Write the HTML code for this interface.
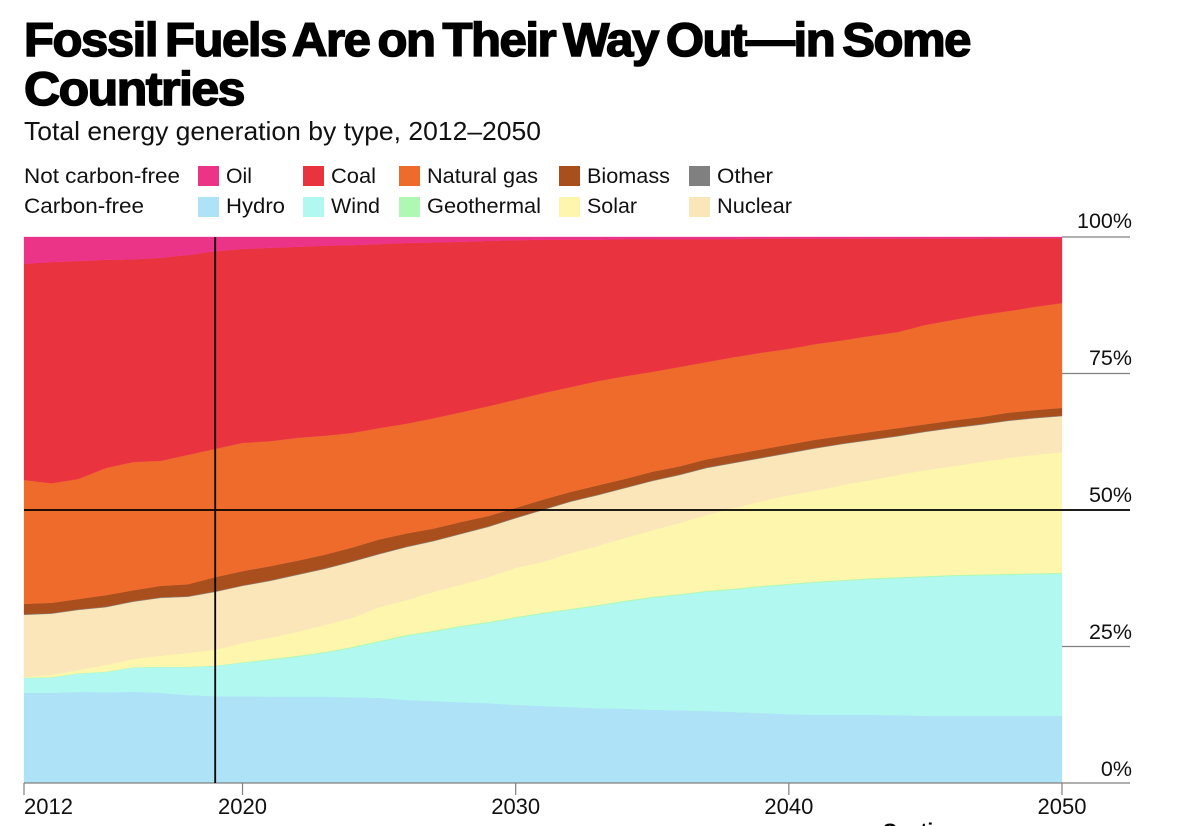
<!DOCTYPE html>
<html lang="en">
<head>
<meta charset="utf-8">
<title>Fossil Fuels Are on Their Way Out—in Some Countries</title>
<style>
  html, body { margin: 0; padding: 0; background: #fff; }
  body { width: 1200px; height: 826px; overflow: hidden; }
  svg { display: block; }
  text { font-family: "Liberation Sans", Arial, sans-serif; fill: #111; }
  .title { font-size: 47px; font-weight: 700; fill: #000; stroke: #000; stroke-width: 1.5px; letter-spacing: -1.4px; word-spacing: -4px; }
  .subtitle { font-size: 26px; }
  .legend { font-size: 21px; }
  .tick-x { font-size: 22px; }
  .tick-y { font-size: 21.5px; }
</style>
</head>
<body>
<svg id="chart" width="1200" height="826" viewBox="0 0 1200 826" xmlns="http://www.w3.org/2000/svg">
  <text class="title" x="24" y="56" textLength="946" lengthAdjust="spacingAndGlyphs">Fossil Fuels Are on Their Way Out—in Some</text>
  <text class="title" x="24" y="105" textLength="220" lengthAdjust="spacingAndGlyphs">Countries</text>
  <text class="subtitle" x="24" y="140" textLength="517" lengthAdjust="spacingAndGlyphs">Total energy generation by type, 2012–2050</text>

  <g>
    <text class="legend" x="24" y="183" textLength="156" lengthAdjust="spacingAndGlyphs">Not carbon-free</text>
    <text class="legend" x="24" y="213" textLength="120" lengthAdjust="spacingAndGlyphs">Carbon-free</text>

    <rect x="198" y="166" width="21" height="20" fill="#eb3388"/>
    <text class="legend" x="226" y="183" textLength="26" lengthAdjust="spacingAndGlyphs">Oil</text>
    <rect x="303" y="166" width="21" height="20" fill="#e9333f"/>
    <text class="legend" x="331" y="183" textLength="45" lengthAdjust="spacingAndGlyphs">Coal</text>
    <rect x="399" y="166" width="21" height="20" fill="#ee6b2b"/>
    <text class="legend" x="427" y="183" textLength="111" lengthAdjust="spacingAndGlyphs">Natural gas</text>
    <rect x="559" y="166" width="21" height="20" fill="#a94f1e"/>
    <text class="legend" x="587" y="183" textLength="83" lengthAdjust="spacingAndGlyphs">Biomass</text>
    <rect x="689" y="166" width="21" height="20" fill="#808080"/>
    <text class="legend" x="717" y="183" textLength="56" lengthAdjust="spacingAndGlyphs">Other</text>

    <rect x="198" y="197" width="21" height="20" fill="#ade2f7"/>
    <text class="legend" x="226" y="213" textLength="59" lengthAdjust="spacingAndGlyphs">Hydro</text>
    <rect x="303" y="197" width="21" height="20" fill="#b0f8f0"/>
    <text class="legend" x="331" y="213" textLength="49" lengthAdjust="spacingAndGlyphs">Wind</text>
    <rect x="399" y="197" width="21" height="20" fill="#aff8b4"/>
    <text class="legend" x="427" y="213" textLength="114" lengthAdjust="spacingAndGlyphs">Geothermal</text>
    <rect x="559" y="197" width="21" height="20" fill="#fef6ac"/>
    <text class="legend" x="587" y="213" textLength="50" lengthAdjust="spacingAndGlyphs">Solar</text>
    <rect x="689" y="197" width="21" height="20" fill="#fae6b8"/>
    <text class="legend" x="717" y="213" textLength="75" lengthAdjust="spacingAndGlyphs">Nuclear</text>
  </g>

  <g id="areas"></g>
  <g id="axes"></g>

  <text x="883" y="838" font-size="21" font-weight="700" style="fill:#000">Section</text>
</svg>

<script>
const years = [2012,2013,2014,2015,2016,2017,2018,2019,2020,2021,2022,2023,2024,2025,2026,2027,2028,2029,2030,2031,2032,2033,2034,2035,2036,2037,2038,2039,2040,2041,2042,2043,2044,2045,2046,2047,2048,2049,2050];

const hydro = [16.5,16.5,16.7,16.6,16.7,16.5,16.1,15.9,15.9,15.8,15.8,15.8,15.7,15.6,15.2,15.0,14.8,14.6,14.3,14.1,13.9,13.7,13.6,13.4,13.3,13.2,13.0,12.8,12.6,12.5,12.5,12.5,12.4,12.3,12.3,12.3,12.3,12.3,12.3];
const wind = [2.7,2.8,3.3,3.7,4.4,4.7,5.1,5.5,6.1,6.7,7.3,8.0,9.0,10.2,11.7,12.7,13.8,14.7,15.9,16.9,17.8,18.7,19.6,20.5,21.1,21.8,22.4,23.1,23.7,24.2,24.5,24.8,25.1,25.4,25.6,25.7,25.8,25.9,26.0];
const geothermal = [0.1,0.1,0.1,0.1,0.1,0.1,0.1,0.1,0.1,0.2,0.2,0.2,0.2,0.2,0.2,0.2,0.2,0.2,0.2,0.2,0.2,0.2,0.2,0.2,0.2,0.2,0.2,0.2,0.2,0.2,0.2,0.2,0.2,0.2,0.2,0.2,0.2,0.2,0.2];
const solar = [0.1,0.4,0.6,1.2,1.5,2.0,2.5,2.9,3.5,3.9,4.4,4.9,5.3,6.2,6.4,7.1,7.5,8.2,9.0,9.3,10.2,10.8,11.5,12.2,13.0,13.9,14.8,15.5,16.2,16.7,17.4,18.0,18.7,19.4,19.9,20.6,21.2,21.7,22.1];
const nuclear = [11.4,11.2,11.0,10.6,10.5,10.6,10.3,10.6,10.5,10.4,10.4,10.3,10.3,9.7,9.7,9.3,9.3,9.2,9.1,9.5,9.4,9.3,9.1,9.0,8.8,8.6,8.2,7.9,7.7,7.7,7.5,7.3,7.1,7.0,7.0,6.8,6.8,6.7,6.6];
const other = [0.1,0.1,0.1,0.1,0.1,0.1,0.1,0.1,0.1,0.1,0.1,0.1,0.1,0.1,0.1,0.1,0.1,0.1,0.1,0.1,0.1,0.1,0.1,0.1,0.1,0.1,0.1,0.1,0.1,0.1,0.1,0.1,0.1,0.1,0.1,0.1,0.1,0.1,0.1];
const biomass = [1.9,1.9,1.9,2.1,2.0,2.1,2.2,2.6,2.6,2.6,2.5,2.5,2.5,2.6,2.4,2.2,2.1,1.9,1.8,1.8,1.7,1.7,1.6,1.6,1.5,1.5,1.5,1.5,1.5,1.5,1.4,1.4,1.4,1.3,1.3,1.3,1.4,1.4,1.4];
const naturalGas = [22.7,21.9,22.0,23.3,23.5,22.9,23.7,23.5,23.5,22.9,22.5,21.8,21.0,20.4,20.1,20.2,20.1,20.1,19.8,19.5,19.2,19.1,18.8,18.3,18.2,17.8,17.8,17.7,17.5,17.5,17.5,17.6,17.6,18.2,18.4,18.7,18.6,18.9,19.2];
const coal = [39.6,40.5,39.9,38.1,37.1,37.2,36.6,36.2,35.5,35.4,35.0,34.8,34.4,33.7,33.1,32.2,31.2,30.3,29.2,28.1,27.0,25.9,25.1,24.3,23.4,22.5,21.6,20.9,20.2,19.3,18.6,17.8,17.1,15.8,14.9,14.0,13.4,12.6,11.9];
const oil = [4.9,4.6,4.4,4.2,4.1,3.8,3.3,2.6,2.2,2.0,1.8,1.6,1.5,1.3,1.1,1.0,0.9,0.7,0.6,0.5,0.5,0.5,0.4,0.4,0.4,0.4,0.4,0.3,0.3,0.3,0.3,0.3,0.3,0.3,0.3,0.3,0.2,0.2,0.2];

const xTickYears = [2012,2020,2030,2040,2050];
const xTickLabels = ["2012","2020","2030","2040","2050"];
const yTickValues = [0,25,50,75,100];
const yTickLabels = ["0%","25%","50%","75%","100%"];
const highlightYear = [2019];
const highlightShare = [50];

const NS = "http://www.w3.org/2000/svg";
const plotLeft = 24, plotRight = 1062, plotTop = 237, plotBottom = 783, gridRight = 1130;

function xScale(year) {
  return plotLeft + (year - years[0]) / (years[years.length - 1] - years[0]) * (plotRight - plotLeft);
}
function yScale(share) {
  return plotBottom - share / 100 * (plotBottom - plotTop);
}
function make(tag, attrs) {
  const el = document.createElementNS(NS, tag);
  for (const k in attrs) el.setAttribute(k, attrs[k]);
  return el;
}

const stack = [
  { key: "hydro", values: hydro, color: "#ade2f7" },
  { key: "wind", values: wind, color: "#b0f8f0" },
  { key: "geothermal", values: geothermal, color: "#aff8b4" },
  { key: "solar", values: solar, color: "#fef6ac" },
  { key: "nuclear", values: nuclear, color: "#fae6b8" },
  { key: "other", values: other, color: "#808080" },
  { key: "biomass", values: biomass, color: "#a94f1e" },
  { key: "natural-gas", values: naturalGas, color: "#ee6b2b" },
  { key: "coal", values: coal, color: "#e9333f" },
  { key: "oil", values: oil, color: "#eb3388" }
];

const areasGroup = document.getElementById("areas");
const axesGroup = document.getElementById("axes");
let baseline = years.map(function () { return 0; });

stack.forEach(function (series) {
  const tops = series.values.map(function (v, i) { return baseline[i] + v; });
  const upper = years.map(function (yr, i) { return xScale(yr).toFixed(2) + "," + yScale(tops[i]).toFixed(2); });
  const lower = years.map(function (yr, i) { return xScale(yr).toFixed(2) + "," + yScale(baseline[i]).toFixed(2); }).reverse();
  const area = make("polygon", { points: upper.concat(lower).join(" "), fill: series.color, stroke: series.color, "stroke-width": 0.3 });
  
  
  areasGroup.appendChild(area);
  baseline = tops;
});

yTickValues.forEach(function (value, i) {
  const y = yScale(value);
  const isFull = value === 0;
  const line = make("line", { x1: isFull ? plotLeft : plotRight, x2: gridRight, y1: y, y2: y, stroke: "#808080", "stroke-width": 1.2 });
  
  
  axesGroup.appendChild(line);
  const label = make("text", { x: 1132, y: y - 7 - value * 0.02, "text-anchor": "end", class: "tick-y" });
  
  
  label.textContent = yTickLabels[i];
  axesGroup.appendChild(label);
});

xTickYears.forEach(function (year, i) {
  const x = xScale(year);
  const tick = make("line", { x1: x, x2: x, y1: plotBottom, y2: plotBottom + 12, stroke: "#808080", "stroke-width": 1.2 });
  
  
  axesGroup.appendChild(tick);
  const label = make("text", { x: i === 0 ? plotLeft : x, y: 814, "text-anchor": i === 0 ? "start" : "middle", class: "tick-x" });
  
  
  label.textContent = xTickLabels[i];
  axesGroup.appendChild(label);
});

const hLine = make("line", { x1: plotLeft, x2: gridRight, y1: yScale(highlightShare[0]), y2: yScale(highlightShare[0]), stroke: "#000", "stroke-width": 1.8 });


axesGroup.appendChild(hLine);

const vLine = make("line", { x1: xScale(highlightYear[0]), x2: xScale(highlightYear[0]), y1: plotTop, y2: plotBottom, stroke: "#000", "stroke-width": 1.8 });


axesGroup.appendChild(vLine);
</script>
</body>
</html>
